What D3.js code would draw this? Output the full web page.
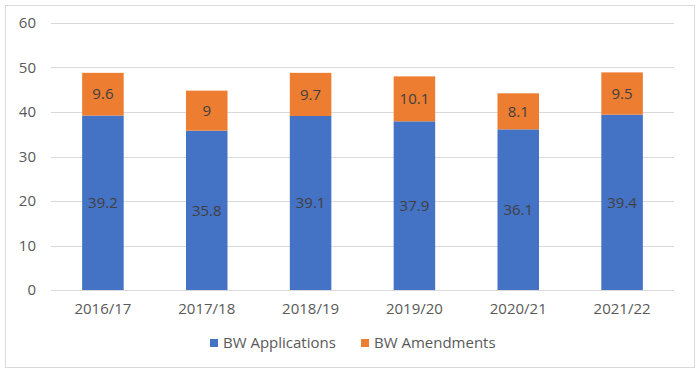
<!DOCTYPE html>
<html>
<head>
<meta charset="utf-8">
<script src="https://d3js.org/d3.v7.min.js"></script>
<style>
  body { margin: 0; background: #fff; }
  text { font-family: "Open Sans", "Noto Sans", sans-serif; }
</style>
</head>
<body>
<div id="chart"></div>
<script>
var years = ["2016/17", "2017/18", "2018/19", "2019/20", "2020/21", "2021/22"];
var applications = [39.2, 35.8, 39.1, 37.9, 36.1, 39.4];
var amendments = [9.6, 9, 9.7, 10.1, 8.1, 9.5];
var seriesNames = ["BW Applications", "BW Amendments"];
var yTicks = [0, 10, 20, 30, 40, 50, 60];

var w = 700;
var h = 373;
var plotLeft = 51, plotRight = 674, plotTop = 23, plotBottom = 290;

var svg = d3.select("#chart")
  .append("svg")
  .attr("width", w)
  .attr("height", h);

// outer frame
svg.append("rect")
  .attr("x", 5.5)
  .attr("y", 5.5)
  .attr("width", 689)
  .attr("height", 362)
  .attr("fill", "#fff")
  .attr("stroke", "#d9d9d9");

var xScale = d3.scaleBand()
  .domain(years)
  .range([plotLeft, plotRight])
  .paddingInner(0.6)
  .paddingOuter(0.3);

var yScale = d3.scaleLinear()
  .domain([0, 60])
  .range([plotBottom, plotTop]);

// gridlines
svg.append("g")
  .selectAll("line")
  .data(yTicks)
  .enter()
  .append("line")
  .attr("x1", plotLeft)
  .attr("x2", plotRight)
  .attr("y1", function(d) { return Math.round(yScale(d)) + 0.5; })
  .attr("y2", function(d) { return Math.round(yScale(d)) + 0.5; })
  .attr("stroke", "#d9d9d9")
  .attr("stroke-width", 1);

var yAxis = svg.append("g")
  .attr("transform", "translate(" + plotLeft + ",0)")
  .call(d3.axisLeft(yScale).tickValues(yTicks).tickSize(0).tickPadding(15));
yAxis.select(".domain").remove();
yAxis.selectAll("text")
  .attr("font-size", "15px")
  .attr("fill", "#595959")
  .style("font-family", "'Open Sans', sans-serif");

var xAxis = svg.append("g")
  .attr("transform", "translate(0," + plotBottom + ")")
  .call(d3.axisBottom(xScale).tickSize(0).tickPadding(13));
xAxis.select(".domain").remove();
xAxis.selectAll("text")
  .attr("font-size", "15px")
  .attr("fill", "#595959")
  .style("font-family", "'Open Sans', sans-serif");

var stacked = years.map(function(y, i) {
  return { year: y, app: applications[i], amd: amendments[i] };
});

var colors = ["#4472c4", "#ed7d31"];

// applications bars
svg.selectAll(".app")
  .data(stacked)
  .enter()
  .append("rect")
  .attr("class", "app")
  .attr("x", function(d) { return xScale(d.year); })
  .attr("width", xScale.bandwidth())
  .attr("y", function(d) { return yScale(d.app); })
  .attr("height", function(d) { return yScale(0) - yScale(d.app); })
  .attr("fill", colors[0]);

// amendments bars
svg.selectAll(".amd")
  .data(stacked)
  .enter()
  .append("rect")
  .attr("class", "amd")
  .attr("x", function(d) { return xScale(d.year); })
  .attr("width", xScale.bandwidth())
  .attr("y", function(d) { return yScale(d.app + d.amd); })
  .attr("height", function(d) { return yScale(d.app) - yScale(d.app + d.amd); })
  .attr("fill", colors[1]);

// value labels
svg.selectAll(".appLabel")
  .data(stacked)
  .enter()
  .append("text")
  .attr("class", "appLabel")
  .text(function(d) { return d.app; })
  .attr("x", function(d) { return xScale(d.year) + xScale.bandwidth() / 2; })
  .attr("y", function(d) { return yScale(d.app / 2); })
  .attr("dy", "0.35em")
  .attr("text-anchor", "middle")
  .attr("font-size", "15px")
  .attr("fill", "#404040");

svg.selectAll(".amdLabel")
  .data(stacked)
  .enter()
  .append("text")
  .attr("class", "amdLabel")
  .text(function(d) { return d.amd; })
  .attr("x", function(d) { return xScale(d.year) + xScale.bandwidth() / 2; })
  .attr("y", function(d) { return yScale(d.app + d.amd / 2); })
  .attr("dy", "0.35em")
  .attr("text-anchor", "middle")
  .attr("font-size", "15px")
  .attr("fill", "#404040");

// legend
var legendX = [210, 361];
var legend = svg.selectAll(".legend")
  .data(seriesNames)
  .enter()
  .append("g")
  .attr("class", "legend")
  .attr("transform", function(d, i) { return "translate(" + legendX[i] + ",339)"; });

legend.append("rect")
  .attr("width", 8)
  .attr("height", 8)
  .attr("fill", function(d, i) { return colors[i]; });

legend.append("text")
  .text(function(d) { return d; })
  .attr("x", 13)
  .attr("y", 4)
  .attr("dy", "0.35em")
  .attr("font-size", "15px")
  .attr("fill", "#595959");
</script>
</body>
</html>
